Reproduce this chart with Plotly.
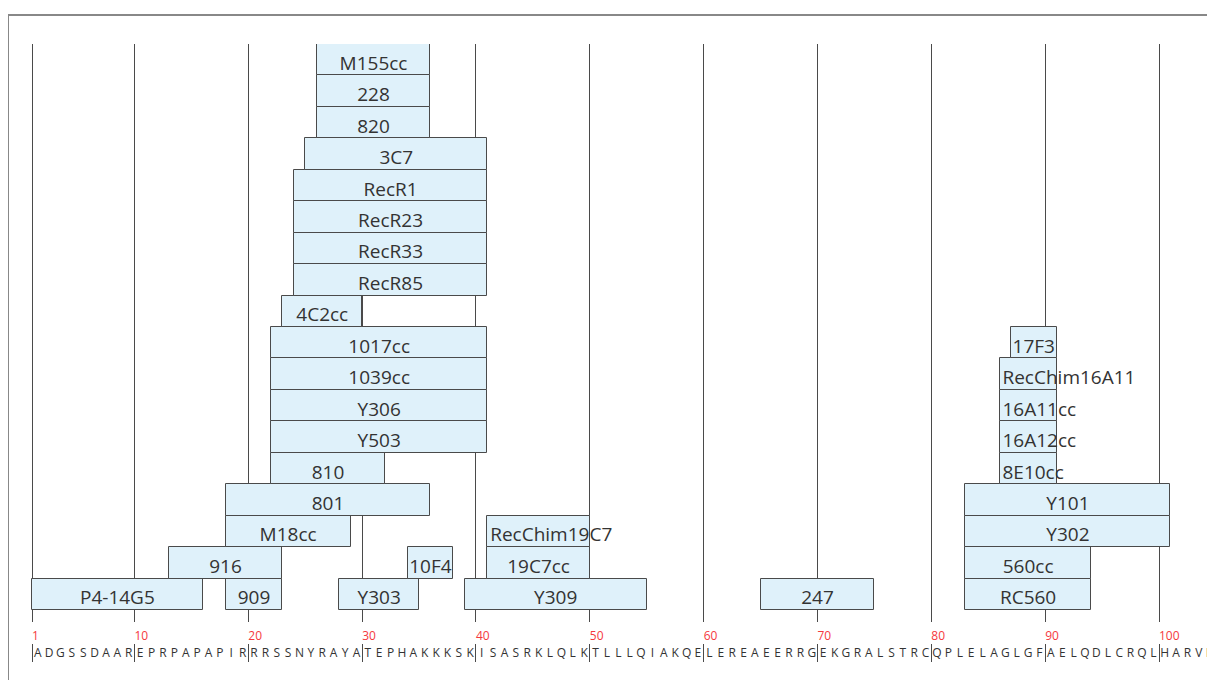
import plotly.graph_objects as go

SEQUENCE = ("ADGSSDAAREPRPAPAPIRRRSSNYRAYATEPHAKKKSKISASRKLQLK"
            "TLLLQIAKQELEREAEERRGEKGRALSTRCQPLELAGLGFAELQDLCRQLHARVD")
TICKS = [1, 10, 20, 30, 40, 50, 60, 70, 80, 90, 100]

LABELS = ["P4-14G5", "909", "Y303", "Y309", "247", "RC560",
          "916", "10F4", "19C7cc", "560cc",
          "M18cc", "RecChim19C7", "Y302",
          "801", "Y101",
          "810", "8E10cc",
          "Y503", "16A12cc",
          "Y306", "16A11cc",
          "1039cc", "RecChim16A11",
          "1017cc", "17F3",
          "4C2cc", "RecR85", "RecR33", "RecR23", "RecR1", "3C7",
          "820", "228", "M155cc"]
STARTS = [1, 18, 28, 39, 65, 83,
          13, 34, 41, 83,
          18, 41, 83,
          18, 83,
          22, 86,
          22, 86,
          22, 86,
          22, 86,
          22, 87,
          23, 24, 24, 24, 24, 25,
          26, 26, 26]
ENDS = [15, 22, 34, 54, 74, 93,
        22, 37, 49, 93,
        28, 49, 100,
        35, 100,
        31, 90,
        40, 90,
        40, 90,
        40, 90,
        40, 90,
        29, 40, 40, 40, 40, 40,
        35, 35, 35]
ROWS = [0, 0, 0, 0, 0, 0,
        1, 1, 1, 1,
        2, 2, 2,
        3, 3,
        4, 4,
        5, 5,
        6, 6,
        7, 7,
        8, 8,
        9, 10, 11, 12, 13, 14,
        15, 16, 17]

W, H = 1215, 680
FONT = 'Open Sans'
BAR_FILL = '#dff1fa'
EDGE = '#4a4a4a'
TEXT = '#333'
RED = '#f5393d'
LABEL_SIZE = 19

# pixel geometry (figure coords; the page adds an 8px body margin)
X0 = 24                          # left edge of residue 1
PX_PER_RES = (1151 - 24) / 99
ROW_PX = (602 - 36) / 18
X_RANGE = [-X0 / PX_PER_RES, (W - X0) / PX_PER_RES]
TEXT_DY = 0.17                   # nudge labels a little below row centre

fig = go.Figure()

# epitope boxes
fig.add_trace(go.Bar(
    orientation='h',
    base=[s - 1 for s in STARTS],
    x=[e - s + 1 for s, e in zip(STARTS, ENDS)],
    y=[r + 0.5 for r in ROWS],
    width=1,
    marker=dict(color=BAR_FILL, line=dict(color=EDGE, width=1)),
    hoverinfo='skip', showlegend=False,
))

# labels: centred when they fit, otherwise start at the box's left edge
fits = [len(t) * 0.57 * LABEL_SIZE <= (e - s + 1) * PX_PER_RES
        for t, s, e in zip(LABELS, STARTS, ENDS)]
centred = [i for i, f in enumerate(fits) if f]
spill = [i for i, f in enumerate(fits) if not f]

fig.add_trace(go.Scatter(
    x=[(STARTS[i] - 1 + ENDS[i]) / 2 for i in centred],
    y=[ROWS[i] + 0.5 - TEXT_DY for i in centred],
    text=[LABELS[i] for i in centred], mode='text',
    textposition='middle center',
    textfont=dict(family=FONT, size=LABEL_SIZE, color=TEXT),
    cliponaxis=False, hoverinfo='skip', showlegend=False,
))
fig.add_trace(go.Scatter(
    x=[STARTS[i] - 1 + 0.25 for i in spill],
    y=[ROWS[i] + 0.5 - TEXT_DY for i in spill],
    text=[LABELS[i] for i in spill], mode='text',
    textposition='middle right',
    textfont=dict(family=FONT, size=LABEL_SIZE, color=TEXT),
    cliponaxis=False, hoverinfo='skip', showlegend=False,
))

# sequence row (x gridlines double as the separators here)
fig.add_trace(go.Scatter(
    x=[i + 0.5 for i in range(len(SEQUENCE))],
    y=[0.42] * len(SEQUENCE),
    text=list(SEQUENCE), mode='text', textposition='middle center',
    textfont=dict(family=FONT, size=12, color=TEXT),
    yaxis='y2', cliponaxis=False, hoverinfo='skip', showlegend=False,
))
# position numbers, on a grid-free copy of the x axis
fig.add_trace(go.Scatter(
    x=[t - 1 for t in TICKS],
    y=[0.3] * len(TICKS),
    text=[str(t) for t in TICKS], mode='text', textposition='middle right',
    textfont=dict(family=FONT, size=12, color=RED),
    xaxis='x2', yaxis='y3', cliponaxis=False, hoverinfo='skip',
    showlegend=False,
))

fig.update_layout(
    width=W, height=H,
    margin=dict(l=0, r=0, t=0, b=0),
    paper_bgcolor='white', plot_bgcolor='white',
    font=dict(family=FONT, color=TEXT),
    bargap=0, showlegend=False,
    xaxis=dict(range=X_RANGE,
               tickvals=[t - 1 for t in TICKS], showticklabels=False,
               ticks='', showgrid=True, gridcolor=EDGE, gridwidth=1,
               zeroline=False, showline=False, fixedrange=True),
    xaxis2=dict(range=X_RANGE, overlaying='x', anchor='y3', visible=False,
                showgrid=False, zeroline=False, fixedrange=True),
    yaxis=dict(domain=[66 / H, 644 / H],
               range=[-12 / ROW_PX, 18], visible=False,
               showgrid=False, zeroline=False, fixedrange=True),
    yaxis2=dict(domain=[26 / H, 44 / H], range=[0, 1], anchor='x',
                visible=False, showgrid=False, zeroline=False,
                fixedrange=True),
    yaxis3=dict(domain=[44 / H, 66 / H], range=[0, 1], anchor='x2',
                visible=False, showgrid=False, zeroline=False,
                fixedrange=True),
    shapes=[dict(type='rect', xref='paper', yref='paper',
                 x0=0, x1=1.05, y0=-0.05, y1=1 - 7 / H,
                 line=dict(color='#888', width=2), layer='below')],
)

fig.write_html("out.html")
